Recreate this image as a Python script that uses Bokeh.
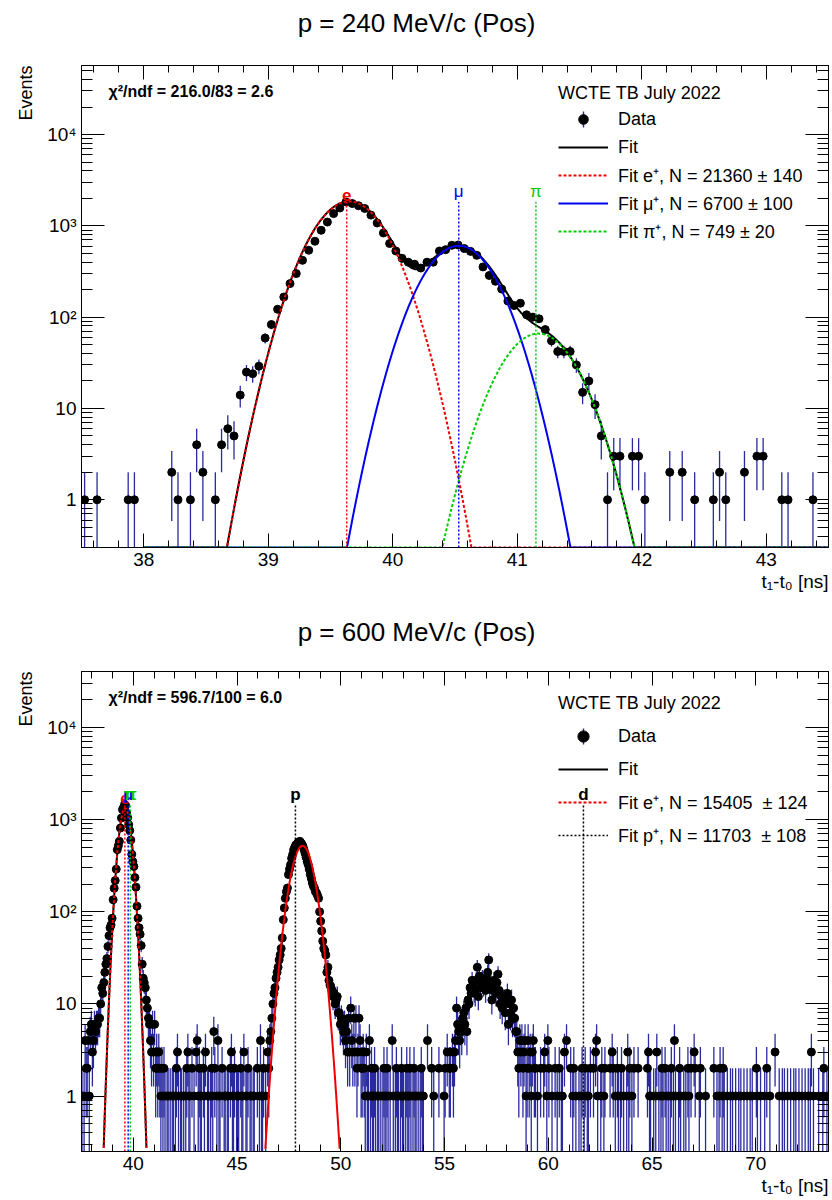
import numpy as np
from bokeh.plotting import figure
from bokeh.models import (ColumnDataSource, FixedTicker, LinearAxis, LogAxis, Label, Title,
                          Legend, LegendItem, BoxAnnotation, Range1d)
from bokeh.layouts import column
from bokeh.embed import file_html
from bokeh.resources import INLINE
from bokeh.core.properties import value

FONT = "Liberation Sans"
RED, BLUE, GREEN, ERR = "#ee0000", "#0000ee", "#00cc00", "#2a2aa0"

# ---------------- shared texts / ticks ----------------
y_ticks = [1, 10, 100, 1000, 10000]
y_tick_labels = ["1", "10", "10²", "10³", "10⁴"]
y_label = "Events"
x_label = "t₁-t₀ [ns]"
legend_title = "WCTE TB July 2022"
bin_width = 0.05

# ---------------- panel 1 : p = 240 MeV/c ----------------
top_title = "p = 240 MeV/c (Pos)"
top_chi2 = "χ²/ndf = 216.0/83 = 2.6"
top_xrange = [37.5, 43.5]
top_yrange = [0.3, 5.7e4]
top_xticks = [38, 39, 40, 41, 42, 43]
top_x = [37.525, 37.625, 37.875, 37.925, 38.225, 38.275, 38.375, 38.425, 38.475, 38.575,
         38.625, 38.675, 38.725, 38.775, 38.825, 38.875, 38.925, 38.975, 39.025,
         39.075, 39.125, 39.175, 39.225, 39.275, 39.325, 39.375, 39.425, 39.475, 39.525,
         39.575, 39.625, 39.675, 39.725, 39.775, 39.825, 39.875, 39.925, 39.975, 40.025,
         40.075, 40.125, 40.175, 40.225, 40.275, 40.325, 40.375, 40.425, 40.475, 40.525,
         40.575, 40.625, 40.675, 40.725, 40.775, 40.825, 40.875, 40.925, 40.975, 41.025,
         41.075, 41.125, 41.175, 41.225, 41.275, 41.325, 41.375, 41.425, 41.475, 41.525,
         41.575, 41.625, 41.675, 41.725, 41.775, 41.825, 41.925, 41.975, 42.025,
         42.225, 42.325, 42.425, 42.575, 42.625, 42.675, 42.825, 42.925, 42.975,
         43.125, 43.175, 43.375]
top_n = [1, 1, 1, 1, 2, 1, 1, 4, 2, 1,
         4, 6, 5, 14, 25, 24, 29, 59, 83,
         122, 166, 233, 300, 419, 540, 678, 894, 1100, 1361,
         1570, 1825, 1754, 1660, 1550, 1310, 1075, 835, 640, 530,
         440, 400, 380, 345, 400, 400, 530, 548, 612, 617,
         563, 525, 475, 355, 286, 247, 203, 150, 134, 142,
         106, 100, 96, 73, 55, 42, 42, 42, 30, 15,
         20, 11, 5, 1, 3, 3, 3, 3, 1,
         2, 2, 1, 1, 2, 1, 2, 3, 3,
         1, 1, 1]
top_fit_range = [38.0, 43.5]
top_fit_mean = [39.65, 40.53, 41.17]      # e, mu, pi
top_fit_amp = [1850, 605, 66]
top_fit_sigma = [0.235, 0.23, 0.235]
top_legend_labels = ["Data", "Fit", "Fit e⁺, N = 21360 ± 140",
                     "Fit μ⁺, N = 6700 ± 100", "Fit π⁺, N = 749 ± 20"]
top_line_x = [39.63, 40.53, 41.15]
top_line_text = ["e", "μ", "π"]
top_line_color = [RED, BLUE, GREEN]
top_line_style = ["bold", "normal", "normal"]

# ---------------- panel 2 : p = 600 MeV/c ----------------
bot_title = "p = 600 MeV/c (Pos)"
bot_chi2 = "χ²/ndf = 596.7/100 = 6.0"
bot_xrange = [37.5, 73.5]
bot_yrange = [0.25, 4.05e4]
bot_xticks = [40, 45, 50, 55, 60, 65, 70]
# contiguous 0.05-ns bins
e_start = 37.625
e_n = [1, 4, 2, 2, 4, 1, 5, 6, 3, 4, 6, 5, 6, 6, 7, 7, 10, 15, 13, 17,
       22, 27, 31, 42, 55, 67, 72, 85, 135, 180, 218, 290, 472, 520, 581, 810, 1041, 1284, 1350, 1455,
       1420, 1180, 1050, 880, 760, 600, 420, 350, 310, 235, 185, 115, 85, 67, 57, 43, 27, 19, 17, 15,
       11, 9, 7, 6, 4, 3, 6, 3, 6]
p_start = 46.475
p_n = [3, 2, 4, 5, 7, 10, 13, 15, 19, 22, 25, 30, 34, 40, 52, 82, 110, 140, 165, 181,
       253, 290, 324, 380, 417, 470, 500, 530, 530, 560, 570, 581, 560, 540, 513, 470, 430, 390, 350, 324,
       290, 253, 230, 205, 190, 181, 165, 160, 150, 140, 100, 79, 62, 48, 40, 38, 34, 22, 25, 18,
       16, 15, 14, 12, 13, 10, 11, 12, 8, 8, 6, 7, 6, 5, 6, 4, 5, 3, 7, 3,
       9, 4, 3, 7, 3, 7, 2, 3, 7, 4, 2]
bump_start = 55.275
bump_n = [2, 0, 3, 2, 3, 4, 9, 6, 5, 4, 6, 5, 7, 8, 6, 9, 5, 11, 10, 15,
          13, 18, 16, 14, 13, 18, 25, 12, 20, 15, 18, 19, 16, 17, 14, 19, 22, 30, 16, 17,
          11, 14, 18, 15, 13, 17, 21, 14, 10, 12, 9, 11, 11, 8, 11, 13, 6, 10, 8, 11,
          7, 9, 7, 5, 5, 3, 2, 4, 3, 4, 2, 3, 4, 1, 2, 4, 2, 3, 1, 3, 4, 2]
# sparse background bins, by count
noise_1 = [37.525, 41.325, 41.425, 41.525, 41.625, 41.675, 41.775, 41.875, 41.925, 42.025, 42.175,
           42.275, 42.325, 42.425, 42.525, 42.675, 42.725, 42.925, 43.125, 43.225, 43.275, 43.425,
           43.575, 43.625, 43.725, 43.825, 44.025, 44.125, 44.175, 44.375, 44.425, 44.525, 44.575,
           44.775, 44.825, 44.975, 45.025, 45.075, 45.225, 45.275, 45.425, 45.475, 45.625, 45.675,
           45.775, 45.825, 46.075, 46.175, 46.225, 46.375,
           51.175, 51.275, 51.325, 51.425, 51.525, 51.575, 51.675, 51.775, 51.825, 51.925, 52.025,
           52.125, 52.175, 52.275, 52.375, 52.525, 52.625, 52.725, 52.775, 52.875, 52.975, 53.025,
           53.125, 53.225, 53.275, 53.375, 53.475, 53.575, 53.625, 53.725, 53.825, 53.925, 53.975,
           54.475, 54.975,
           59.475, 59.925, 60.175, 60.425, 60.625, 60.675, 61.175, 61.325, 61.475, 61.575, 61.725,
           61.875, 61.925, 62.375, 62.525, 62.675, 63.225, 63.375, 63.475, 63.625, 63.775, 63.875,
           64.025, 64.875, 64.925, 65.075, 65.175, 65.325, 65.425, 65.525, 65.675, 65.775, 65.875,
           66.025, 66.125, 66.275, 66.375, 66.525, 66.625, 66.775, 67.275, 67.575, 68.125, 68.225,
           68.375, 68.475, 68.625, 68.775, 68.875, 69.025, 69.175, 69.275, 69.425, 69.575, 69.725,
           69.825, 70.075, 70.225, 70.425, 70.675, 71.125, 71.275, 71.375, 71.525, 71.675, 71.825,
           71.925, 72.075, 72.225, 72.375, 72.525, 72.625, 72.775, 73.025, 73.225, 73.425]
noise_2 = [55.225, 41.075, 41.175, 41.275, 41.375, 41.475, 42.075, 42.575, 42.825, 43.175, 43.375,
           43.775, 43.925, 44.275, 44.675, 44.875, 45.175, 45.525, 45.975, 46.275,
           51.025, 51.125, 51.475, 51.625, 52.075, 52.225, 52.675, 52.925, 53.175, 53.325, 53.525,
           53.875, 54.375, 54.725, 55.025,
           59.375, 59.625, 59.775, 60.025, 60.325, 60.525, 61.075, 61.225, 61.625, 61.775, 62.025,
           62.175, 62.575, 62.725, 62.975, 63.125, 63.325, 63.525, 63.925, 64.125, 64.325, 64.775,
           65.475, 65.625, 65.925, 66.325, 66.725, 66.875, 67.075, 67.325, 67.975, 68.275, 68.425,
           70.025, 70.525, 73.275]
noise_3 = [55.125, 41.125, 41.225, 42.125, 42.625, 43.025, 43.475, 44.725, 45.325, 51.075, 51.225,
           59.825, 60.775, 62.275, 63.075, 63.825, 64.825, 65.225, 67.025, 70.925, 72.675]
noise_4 = [43.075, 44.075, 46.125, 51.375, 52.475, 54.175, 59.975, 60.875, 62.325, 66.075]
noise_5 = [43.875]
bot_fit_mean = [39.60, 48.15]   # e, p
bot_fit_amp = [1330, 520]
bot_fit_sigma = [0.25, 0.46]
bot_legend_labels = ["Data", "Fit", "Fit e⁺, N = 15405  ± 124", "Fit p⁺, N = 11703  ± 108"]
bot_line_x = [39.59, 39.75, 39.85, 47.81, 61.69]
bot_line_text = ["e", "μ", "π", "p", "d"]
bot_line_color = [RED, BLUE, GREEN, "black", "black"]
bot_line_style = ["bold", "bold", "bold", "bold", "bold"]

y_minor = [m * 10.0 ** k for k in range(-1, 5) for m in range(2, 10)]


def gauss(x, a, m, s):
    return a * np.exp(-0.5 * ((x - m) / s) ** 2)


def title_strip(text, height, center_from_top):
    # the frames of a column are aligned, so this strip's frame starts at x = 81
    t = figure(width=832, height=height, x_range=Range1d(0, 1), y_range=Range1d(0, 1),
               output_backend="svg", toolbar_location=None, title=None,
               x_axis_location=None, y_axis_location=None, min_border=0,
               outline_line_color=None, background_fill_color="white",
               border_fill_color="white")
    t.grid.visible = False
    t.add_layout(Label(x=416 - 81, y=height - center_from_top, x_units="screen", y_units="screen",
                       text=text, text_align="center", text_baseline="middle",
                       text_font=FONT, text_font_size="26px", text_color="black"))
    return t


def build_panel(height, top_b, bottom_b, xr, yr, xticks, xminor, chi2):
    fh = height - top_b - bottom_b
    p = figure(width=832, height=height, x_range=Range1d(*xr), y_range=Range1d(*yr),
               y_axis_type="log", output_backend="svg", toolbar_location=None, title=None,
               min_border_left=81, min_border_right=4, min_border_top=top_b,
               min_border_bottom=bottom_b, outline_line_color="black",
               background_fill_color="white", border_fill_color="white")
    p.xgrid.visible = False
    p.ygrid.visible = False
    xt = FixedTicker(ticks=xticks, minor_ticks=xminor)
    yt = FixedTicker(ticks=y_ticks, minor_ticks=y_minor)
    bx, ly = p.xaxis[0], p.yaxis[0]
    bx.ticker = xt
    ly.ticker = yt
    ly.major_label_overrides = dict(zip(y_ticks, y_tick_labels))
    tx = LinearAxis(ticker=xt, major_label_overrides={t: "" for t in xticks})
    ry = LogAxis(ticker=yt, major_label_overrides={t: "" for t in y_ticks})
    p.add_layout(tx, "above")
    p.add_layout(ry, "right")
    for ax, mj, mn, show in [(bx, 14, 7, True), (tx, 14, 7, False),
                             (ly, 23, 11, True), (ry, 23, 11, False)]:
        ax.major_tick_in = mj
        ax.major_tick_out = 0
        ax.minor_tick_in = mn
        ax.minor_tick_out = 0
        ax.axis_line_color = "black"
        ax.major_tick_line_color = "black"
        ax.minor_tick_line_color = "black"
        ax.major_label_text_font = FONT
        ax.major_label_text_color = "black"
        ax.major_label_text_font_size = "19px"
        ax.major_label_standoff = 5 if show else 0
    # axis titles at the far end of each axis
    p.add_layout(Title(text=x_label, align="right", text_font=FONT, text_font_size="19px",
                       text_font_style="normal", text_color="black", standoff=0), "below")
    p.add_layout(Title(text=y_label, align="right", text_font=FONT, text_font_size="18px",
                       text_font_style="normal", text_color="black", standoff=17), "left")
    p.add_layout(Label(x=27, y=fh - 26, x_units="screen", y_units="screen", text=chi2,
                       text_align="left", text_baseline="middle", text_font=FONT,
                       text_font_style="bold", text_font_size="16px", text_color="black"))
    return p


def add_data(p, xs, ns, ymin):
    x = np.asarray(xs, float)
    n = np.asarray(ns, float)
    keep = n > 0
    x, n = x[keep], n[keep]
    err = np.sqrt(n)
    src = ColumnDataSource(dict(x=x, n=n, lo=np.maximum(n - err, ymin * 0.5), hi=n + err))
    p.segment("x", "lo", "x", "hi", source=src, line_color=ERR, line_width=1.3)
    return p.scatter("x", "n", source=src, size=8, marker="circle",
                     fill_color="black", line_color="black")


def add_tof_lines(p, xs, texts, colors, styles, ymin, ymax):
    renderers = []
    for x, t, c, st in zip(xs, texts, colors, styles):
        src = ColumnDataSource(dict(x=[x], y0=[ymin], y1=[ymax], t=[t]))
        renderers.append(p.segment("x", "y0", "x", "y1", source=src, line_color=c,
                                   line_width=1.5, line_dash="2 2"))
        p.text("x", "y1", text="t", source=src, text_color=c, text_align="center",
               text_baseline="bottom", text_font=value(FONT), text_font_size=value("17px"),
               text_font_style=st, y_offset=-1)
    return renderers


def add_legend(p, items, loc, gh, spacing, title_standoff):
    n_items = len(items)
    data_c = loc[1] + (n_items - 1) * (gh + spacing) + gh / 2
    box = BoxAnnotation(left=loc[0] + 24.3, right=loc[0] + 25.7, bottom=data_c - 8, top=data_c + 8,
                        left_units="screen", right_units="screen", top_units="screen",
                        bottom_units="screen", fill_color=ERR, fill_alpha=1, line_color=None)
    p.add_layout(box)
    leg = Legend(items=items, location=loc, title=legend_title, title_text_font=FONT,
                 title_text_font_size="18px", title_text_font_style="normal",
                 title_text_color="black", title_standoff=title_standoff,
                 label_text_font=FONT, label_text_font_size="18px", label_text_color="black",
                 glyph_width=50, glyph_height=gh, label_height=gh, spacing=spacing, padding=0,
                 margin=0, label_standoff=10, border_line_color=None, background_fill_alpha=0)
    p.add_layout(leg)


# ---------------- panel 1 ----------------
t1 = title_strip(top_title, 40, 22)
p1 = build_panel(560, 25, 53, top_xrange, top_yrange, top_xticks,
                 [round(37.6 + 0.2 * i, 1) for i in range(30)], top_chi2)
ymin1 = top_yrange[0]
r_data1 = add_data(p1, top_x, top_n, ymin1)
xs1 = np.linspace(top_fit_range[0], top_fit_range[1], 1101)
comps = [gauss(xs1, a, m, s) for a, m, s in zip(top_fit_amp, top_fit_mean, top_fit_sigma)]
total = comps[0] + comps[1] + comps[2]
r_fit1 = p1.line(xs1, np.maximum(total, ymin1), line_color="black", line_width=2)
r_e1 = p1.line(xs1, np.maximum(comps[0], ymin1), line_color=RED, line_width=2, line_dash="3 2")
r_mu1 = p1.line(xs1, np.maximum(comps[1], ymin1), line_color=BLUE, line_width=2)
r_pi1 = p1.line(xs1, np.maximum(comps[2], ymin1), line_color=GREEN, line_width=2, line_dash="3 2")
add_tof_lines(p1, top_line_x, top_line_text, top_line_color, top_line_style, ymin1, max(top_n))
items1 = [LegendItem(label=lab, renderers=[r]) for lab, r in
          zip(top_legend_labels, [r_data1, r_fit1, r_e1, r_mu1, r_pi1])]
add_legend(p1, items1, (477, 304), 24, 4, 3)

# ---------------- panel 2 ----------------
bot = {}
for start, counts in [(e_start, e_n), (p_start, p_n), (bump_start, bump_n)]:
    for i, c in enumerate(counts):
        bot[round(start + bin_width * i, 3)] = c
for level, xs in [(1, noise_1), (2, noise_2), (3, noise_3), (4, noise_4), (5, noise_5)]:
    for x in xs:
        key = round(x, 3)
        bot[key] = max(bot.get(key, 0), level)
bot_x = sorted(bot)
bot_n = [bot[k] for k in bot_x]

t2 = title_strip(bot_title, 50, 31)
p2 = build_panel(550, 21, 49, bot_xrange, bot_yrange, bot_xticks,
                 list(range(38, 74)), bot_chi2)
ymin2 = bot_yrange[0]
r_data2 = add_data(p2, bot_x, bot_n, ymin2)
xs2 = np.linspace(bot_xrange[0], bot_xrange[1], 3601)
ye = gauss(xs2, bot_fit_amp[0], bot_fit_mean[0], bot_fit_sigma[0])
yp = gauss(xs2, bot_fit_amp[1], bot_fit_mean[1], bot_fit_sigma[1])
ye[ye < ymin2] = np.nan
yp[yp < ymin2] = np.nan
r_fit2 = p2.line(xs2, ye, line_color="black", line_width=2)
r_e2 = p2.line(xs2, ye, line_color=RED, line_width=2, line_dash="3 2")
r_p2 = p2.line(xs2, yp, line_color=RED, line_width=2)
tof2 = add_tof_lines(p2, bot_line_x, bot_line_text, bot_line_color, bot_line_style,
                     ymin2, max(bot_n))
items2 = [LegendItem(label=lab, renderers=[r]) for lab, r in
          zip(bot_legend_labels, [r_data2, r_fit2, r_e2, tof2[3]])]
add_legend(p2, items2, (477, 302), 28, 5, 8)

layout = column(t1, p1, t2, p2)
open("out.html", "w").write(file_html(layout, INLINE))
